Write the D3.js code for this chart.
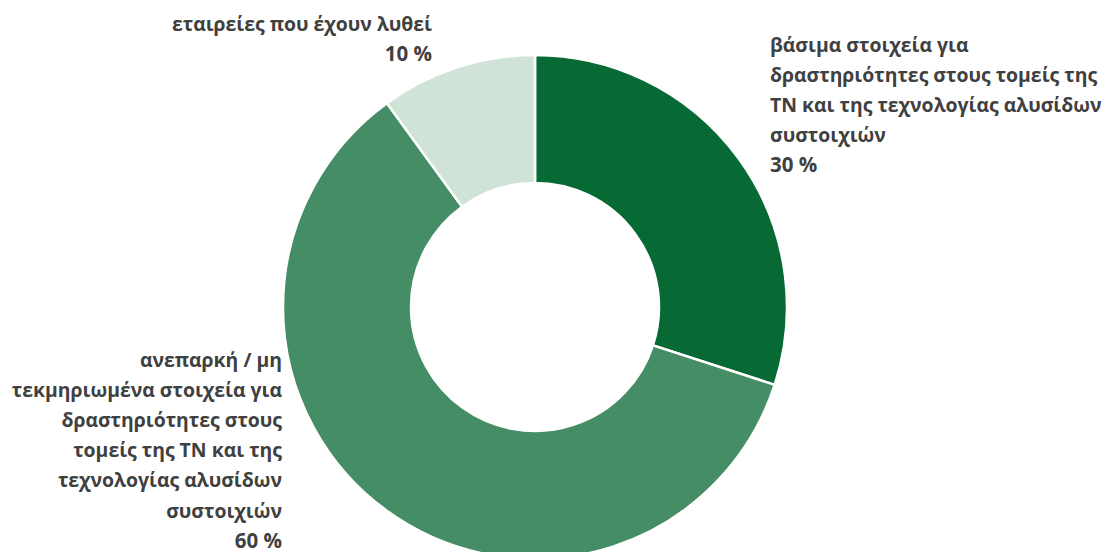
<!DOCTYPE html>
<html>
<head>
<meta charset="utf-8">
<script src="https://cdn.jsdelivr.net/npm/d3@7"></script>
<style>
  body { margin: 0; background: #fff; }
  text { font-family: "Open Sans", sans-serif; font-weight: 700; fill: #404040; }
</style>
</head>
<body>
<svg id="chart" width="1105" height="552"></svg>
<script>
let categories = [
    'βάσιμα στοιχεία για δραστηριότητες στους τομείς της ΤΝ και της τεχνολογίας αλυσίδων συστοιχιών',
    'ανεπαρκή / μη τεκμηριωμένα στοιχεία για δραστηριότητες στους τομείς της ΤΝ και της τεχνολογίας αλυσίδων συστοιχιών',
    'εταιρείες που έχουν λυθεί'
]
let values = [30, 60, 10]
let colors = ['#076a35', '#458d64', '#cfe3d7']

// label lines as wrapped in the original
let labelLines = [
    ['βάσιμα στοιχεία για', 'δραστηριότητες στους τομείς της', 'ΤΝ και της τεχνολογίας αλυσίδων', 'συστοιχιών'],
    ['ανεπαρκή / μη', 'τεκμηριωμένα στοιχεία για', 'δραστηριότητες στους', 'τομείς της ΤΝ και της', 'τεχνολογίας αλυσίδων', 'συστοιχιών'],
    ['εταιρείες που έχουν λυθεί']
]

let svg = d3.select('#chart')

let cx = 535
let cy = 307
let outerR = 252
let innerR = 124

let pie = d3.pie().sort(null).value((d) => d)
let arc = d3.arc().innerRadius(innerR).outerRadius(outerR)

let slices = pie(values)

svg.append('g')
   .attr('transform', 'translate(' + cx + ',' + cy + ')')
   .selectAll('path')
   .data(slices)
   .enter()
   .append('path')
   .attr('d', arc)
   .attr('fill', (d, i) => colors[i])
   .attr('stroke', '#fff')
   .attr('stroke-width', 2.5)

// label placement: anchor x, first baseline y, alignment
let labelPos = [
    { x: 770, y: 52, anchor: 'start' },
    { x: 282, y: 367, anchor: 'end' },
    { x: 432, y: 31, anchor: 'end' }
]
let lineH = 30.1

categories.forEach((cat, i) => {
    let pos = labelPos[i]
    let lines = labelLines[i].concat([values[i] + ' %'])
    let t = svg.append('text')
               .attr('text-anchor', pos.anchor)
               .attr('font-size', 19.4)
    lines.forEach((ln, j) => {
        t.append('tspan')
         .attr('x', pos.x)
         .attr('y', pos.y + j * lineH)
         .attr('font-size', j === lines.length - 1 ? 20.5 : 19.4)
         .text(ln)
    })
})
</script>
</body>
</html>
